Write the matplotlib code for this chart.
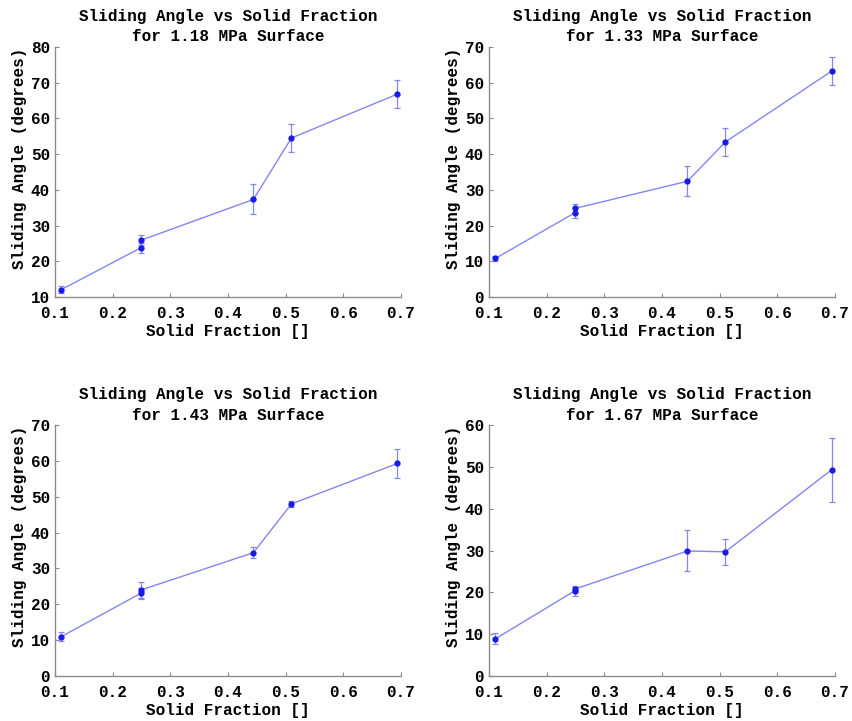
import matplotlib
matplotlib.use('Agg')
import matplotlib.pyplot as plt
import numpy as np

plt.rcParams['font.family'] = ['Liberation Mono', 'DejaVu Sans Mono']
plt.rcParams['font.weight'] = 'bold'

# --- data ---
solid_fraction = [0.111, 0.249, 0.249, 0.444, 0.51, 0.694]

pressures = ['1.18', '1.33', '1.43', '1.67']

angle_118 = [12.1, 23.8, 25.9, 37.3, 54.5, 66.8]
err_118 = [0.9, 1.4, 1.4, 4.2, 4.0, 3.9]

angle_133 = [10.8, 23.6, 24.8, 32.4, 43.4, 63.2]
err_133 = [0.7, 1.5, 1.3, 4.2, 3.9, 3.9]

angle_143 = [11.0, 23.1, 24.0, 34.4, 48.0, 59.3]
err_143 = [1.2, 1.5, 2.3, 1.6, 0.8, 4.0]

angle_167 = [8.9, 20.4, 20.8, 29.9, 29.7, 49.3]
err_167 = [1.3, 1.2, 0.6, 4.9, 3.1, 7.7]

y_limits = [(10, 80), (0, 70), (0, 70), (0, 60)]
x_ticks = [0.1, 0.2, 0.3, 0.4, 0.5, 0.6, 0.7]

fig = plt.figure(figsize=(8.52, 7.21), dpi=100)

# axes positions (left, bottom, width, height)
positions = [
    [0.0646, 0.588, 0.406, 0.347],
    [0.574, 0.588, 0.406, 0.347],
    [0.0646, 0.0624, 0.406, 0.348],
    [0.574, 0.0624, 0.406, 0.348],
]

angles = [angle_118, angle_133, angle_143, angle_167]
errs = [err_118, err_133, err_143, err_167]

for i in range(4):
    ax = fig.add_axes(positions[i])
    ax.errorbar(solid_fraction, angles[i], yerr=errs[i], color='#8585f2', lw=1.0,
                elinewidth=0.9, capsize=2.5, capthick=0.9, marker='o', ms=3.5,
                mfc='#1a1ae6', mec='#1a1ae6', zorder=3)
    ax.set_xlim(0.1, 0.7)
    ax.set_ylim(*y_limits[i])
    ax.set_xticks(x_ticks)
    ax.set_xticklabels(['%.1f' % t for t in x_ticks])
    ax.spines['top'].set_visible(False)
    ax.spines['right'].set_visible(False)
    for s in ['left', 'bottom']:
        ax.spines[s].set_color('#8a8a8a')
        ax.spines[s].set_linewidth(1.0)
    ax.tick_params(direction='in', length=3, color='#8a8a8a', labelsize=11.5)
    ax.tick_params(axis='y', pad=3.5)
    ax.tick_params(axis='x', pad=6.5)
    for lab in ax.get_xticklabels() + ax.get_yticklabels():
        lab.set_fontweight('bold')
    ax.set_xlabel('Solid Fraction []', fontsize=11.5, fontweight='bold', labelpad=2)
    ax.set_ylabel('Sliding Angle (degrees)', fontsize=11.5, fontweight='bold')
    ax.yaxis.set_label_coords(-0.08, 0.555)
    ax.set_title('Sliding Angle vs Solid Fraction\nfor %s MPa Surface' % pressures[i],
                 fontsize=11.5, fontweight='bold', pad=4, linespacing=1.45)

fig.savefig('out.png', dpi=100)
